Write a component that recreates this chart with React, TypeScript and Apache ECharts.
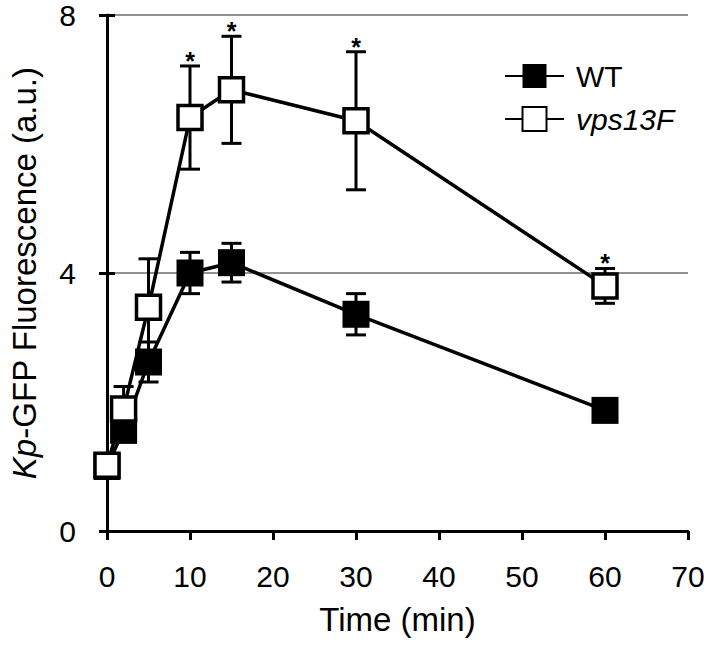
import React, { useEffect, useRef } from 'react';
import * as echarts from 'echarts';

const times = [0, 2, 5, 10, 15, 30, 60];
const wtMean = [1.0, 1.56, 2.62, 4.0, 4.16, 3.36, 1.87];
const wtErr = [0.05, 0.1, 0.31, 0.32, 0.3, 0.32, 0.08];
const vpsMean = [1.02, 1.89, 3.47, 6.41, 6.84, 6.36, 3.8];
const vpsErr = [0.05, 0.35, 0.75, 0.8, 0.83, 1.07, 0.27];
const vpsSig = [0, 0, 0, 1, 1, 1, 1];
const seriesNames = ['WT', 'vps13F'];
const xTicks = { min: 0, max: 70, interval: 10 };
const yTicks = { min: 0, max: 8, interval: 4 };

const FONT = '"Liberation Sans", Arial, sans-serif';

function errData(mean: number[], err: number[], sig: number[]) {
  return times.map((t, i) => [t, mean[i] - err[i], mean[i] + err[i], sig[i]]);
}

function errRender(params: any, api: any) {
  const x = api.value(0);
  const lo = api.value(1);
  const hi = api.value(2);
  const sig = api.value(3);
  const pHi = api.coord([x, hi]);
  const pLo = api.coord([x, lo]);
  const cap = 10;
  const style = { stroke: '#000', lineWidth: 3 };
  const children: any[] = [
    { type: 'line', shape: { x1: pHi[0], y1: pHi[1], x2: pLo[0], y2: pLo[1] }, style },
    { type: 'line', shape: { x1: pHi[0] - cap, y1: pHi[1], x2: pHi[0] + cap, y2: pHi[1] }, style },
    { type: 'line', shape: { x1: pLo[0] - cap, y1: pLo[1], x2: pLo[0] + cap, y2: pLo[1] }, style },
  ];
  if (sig) {
    children.push({
      type: 'text',
      x: pHi[0],
      y: pHi[1] - 5,
      style: { text: '*', fill: '#000', font: `bold 25px ${FONT}`, align: 'center', verticalAlign: 'middle' },
    });
  }
  return { type: 'group', children };
}

export default function App() {
  const ref = useRef<HTMLDivElement>(null);
  useEffect(() => {
    const chart = echarts.init(ref.current!, null, { renderer: 'svg' });
    const option: any = {
      animation: false,
      backgroundColor: '#fff',
      grid: { left: 106, right: 21, top: 14, bottom: 115, containLabel: false },
      legend: {
        data: seriesNames,
        orient: 'vertical',
        left: 504,
        top: 61,
        padding: 0,
        itemGap: 13,
        itemWidth: 59,
        itemHeight: 30,
        formatter: (n: string) => (n === 'vps13F' ? '{i|vps13F}' : n),
        textStyle: {
          fontSize: 30,
          color: '#000',
          fontFamily: FONT,
          padding: [0, 0, 0, 7],
          rich: { i: { fontStyle: 'italic', fontSize: 30, fontFamily: FONT, color: '#000' } },
        },
      },
      xAxis: {
        type: 'value',
        ...xTicks,
        name: 'Time (min)',
        nameLocation: 'middle',
        nameGap: 72,
        nameTextStyle: { fontSize: 33, fontFamily: FONT, color: '#000' },
        axisLine: { show: true, lineStyle: { color: '#000', width: 3 } },
        axisTick: { show: true, inside: false, length: 9, lineStyle: { color: '#000', width: 3 } },
        axisLabel: { fontSize: 30, fontFamily: FONT, color: '#000', margin: 30 },
        splitLine: { show: false },
      },
      yAxis: [
        {
          type: 'value',
          ...yTicks,
          position: 'left',
          name: '{i|Kp}-GFP Fluorescence (a.u.)',
          nameLocation: 'middle',
          nameRotate: 90,
          nameGap: 66,
          nameTextStyle: {
            fontSize: 33,
            fontFamily: FONT,
            color: '#000',
            rich: { i: { fontStyle: 'italic', fontSize: 33, fontFamily: FONT, color: '#000' } },
          },
          axisLine: { show: true, lineStyle: { color: '#000', width: 3 } },
          axisTick: { show: true, inside: false, length: 8, lineStyle: { color: '#000', width: 3 } },
          axisLabel: { fontSize: 30, fontFamily: FONT, color: '#000', margin: 31 },
          splitLine: { show: true, lineStyle: { color: '#6e6e6e', width: 1.5 } },
        },
        {
          type: 'value',
          ...yTicks,
          position: 'left',
          axisLine: { show: false },
          axisTick: { show: true, inside: true, length: 8, lineStyle: { color: '#000', width: 3 } },
          axisLabel: { show: false },
          splitLine: { show: false },
        },
      ],
      series: [
        {
          type: 'custom',
          name: 'wtErr',
          renderItem: errRender,
          data: errData(wtMean, wtErr, times.map(() => 0)),
          z: 2,
          silent: true,
        },
        {
          type: 'custom',
          name: 'vpsErr',
          renderItem: errRender,
          data: errData(vpsMean, vpsErr, vpsSig),
          z: 2,
          silent: true,
        },
        {
          type: 'line',
          name: 'WT',
          data: times.map((t, i) => [t, wtMean[i]]),
          symbol: 'rect',
          symbolSize: 27,
          showAllSymbol: true,
          itemStyle: { color: '#000', borderWidth: 0 },
          lineStyle: { color: '#000', width: 3.5 },
          z: 3,
        },
        {
          type: 'line',
          name: 'vps13F',
          data: times.map((t, i) => [t, vpsMean[i]]),
          symbol: 'rect',
          symbolSize: 24,
          showAllSymbol: true,
          itemStyle: { color: '#fff', borderColor: '#000', borderWidth: 3.5 },
          lineStyle: { color: '#000', width: 3.5 },
          z: 4,
        },
      ],
    };
    chart.setOption(option);
    return () => chart.dispose();
  }, []);
  return (
    <div
      ref={ref}
      style={{ position: 'absolute', left: 0, top: 0, width: 709, height: 646, background: '#fff' }}
    />
  );
}
